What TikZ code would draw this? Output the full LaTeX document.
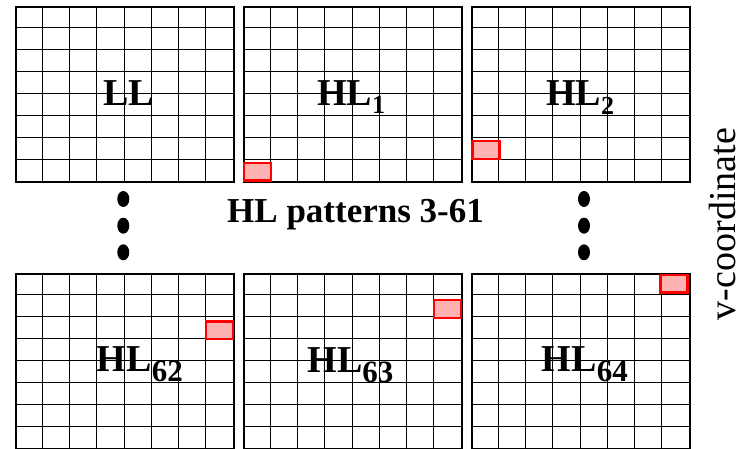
\documentclass[tikz,border=0pt]{standalone}
\usepackage{fontspec}
\setmainfont{Liberation Serif}
\usetikzlibrary{shapes,positioning,calc}

% pattern name with a lowered index
\newcommand{\hlsub}[3]{HL\raisebox{-#3}{\fontsize{#2}{#2}\selectfont #1}}

\tikzset{
	panel/.style={
		rectangle,
		draw,
		line width=2.4pt,
		minimum width=218pt,
		minimum height=175pt,
		inner sep=0pt,
		anchor=north west,
	},
	cellgrid/.style={
		line width=1.5pt,
	},
	hitcell/.style={
		rectangle,
		draw=red,
		fill=red!30,
		line width=2.2pt,
		minimum width=27pt,
		minimum height=17.6pt,
		inner sep=0pt,
	},
	patname/.style={
		font=\fontsize{38}{38}\selectfont\bfseries,
		anchor=base west,
		inner sep=0pt,
	},
	bigdot/.style={
		ellipse,
		fill=black,
		minimum width=12pt,
		minimum height=16pt,
		inner sep=0pt,
	},
}

\begin{document}
\begin{tikzpicture}[x=1pt,y=-1pt]
	\useasboundingbox (0,0) rectangle (743,449);

	% the six 8x8 panels
	\node [panel] (ll)   at (15,6)    {};
	\node [panel] (hl1)  at (243,6)   {};
	\node [panel] (hl2)  at (471,6)   {};
	\node [panel] (hl62) at (15,273)  {};
	\node [panel] (hl63) at (243,273) {};
	\node [panel] (hl64) at (471,273) {};

	% cell lines, snapped to whole points
	\foreach \p in {ll,hl1,hl2,hl62,hl63,hl64} {
		\foreach \i in {1,...,7} {
			\pgfmathsetmacro{\gx}{floor(\i*27.25)+0.5}
			\pgfmathsetmacro{\gy}{floor(\i*21.875)+0.5}
			\draw[cellgrid] ($(\p.north west)+(\gx,0)$) -- ($(\p.south west)+(\gx,0)$);
			\draw[cellgrid] ($(\p.north west)+(0,\gy)$) -- ($(\p.north east)+(0,\gy)$);
		}
	}

	% active cell of each pattern
	\node [hitcell] (h1)  at ($(hl1.north west)+(14.8,165.7)$)  {};
	\node [hitcell] (h2)  at ($(hl2.north west)+(14.9,144)$)    {};
	\node [hitcell] (h62) at ($(hl62.north west)+(204.4,57.2)$) {};
	\node [hitcell] (h63) at ($(hl63.north west)+(204.2,35.9)$) {};
	\node [hitcell] (h64) at ($(hl64.north west)+(202.9,10.7)$) {};

	% panel names
	\node [patname] (tll)   at (103,106)   {LL};
	\node [patname] (thl1)  at (317,106)   {\hlsub{1}{26}{8pt}};
	\node [patname] (thl2)  at (546,106)   {\hlsub{2}{26}{9pt}};
	\node [patname] (thl62) at (96.7,371.7) {\hlsub{62}{31}{10pt}};
	\node [patname] (thl63) at (307.3,372) {\hlsub{63}{31}{10pt}};
	\node [patname] (thl64) at (541.7,371.7) {\hlsub{64}{31}{10pt}};

	% the skipped patterns
	\foreach \y [count=\i] in {199,225.7,252.3} {
		\node [bigdot] (dl\i) at (123.3,\y) {};
		\node [bigdot] (dr\i) at (584,\y)   {};
	}
	\node [
	  anchor=base,
	  inner sep=0pt,
	  font=\fontsize{35}{35}\selectfont\bfseries,
	] (skip) at (355.5,222.5) {HL patterns 3-61};

	\node [
	  anchor=base,
	  rotate=90,
	  inner sep=0pt,
	  font=\fontsize{38}{38}\selectfont,
	] (vaxis) at (735,224) {v-coordinate};
\end{tikzpicture}
\end{document}
